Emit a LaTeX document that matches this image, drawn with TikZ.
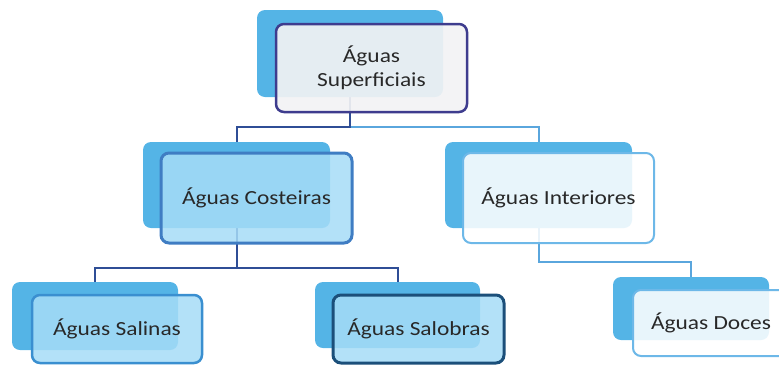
\documentclass[tikz,border=0pt]{standalone}
\usepackage{fontspec}
\setmainfont{Carlito}[FakeStretch=1.17]
\pgfdeclarelayer{background}
\pgfsetlayers{background,main}
\definecolor{backblue}{RGB}{84,180,230}
\definecolor{topfill}{RGB}{242,242,244}
\definecolor{topline}{RGB}{62,60,142}
\definecolor{lightfill}{RGB}{166,220,247}
\definecolor{midline}{RGB}{63,125,195}
\definecolor{salline}{RGB}{58,143,208}
\definecolor{navyline}{RGB}{27,79,122}
\definecolor{paleline}{RGB}{109,184,232}
\definecolor{darkconn}{RGB}{47,78,150}
\definecolor{lightconn}{RGB}{90,166,221}
\definecolor{txt}{RGB}{40,40,40}
\tikzset{
  backbox/.style={rectangle, rounded corners=8pt, fill=backblue, draw=none, inner sep=0pt, outer sep=0pt},
  frontbox/.style={rectangle, rounded corners=8pt, inner sep=0pt, outer sep=0pt, text=txt, font=\fontsize{20}{24}\selectfont, align=center},
  darkc/.style={draw=darkconn, line width=2pt},
  lightc/.style={draw=lightconn, line width=2pt}
}
\begin{document}
\begin{tikzpicture}[x=1pt,y=-1pt]
\useasboundingbox (0,0) rectangle (779,365);
% level 0
\node[backbox, minimum width=186pt, minimum height=87pt] (b1) at (350,53.5) {};
\node[frontbox, fill=topfill, fill opacity=0.92, text opacity=1, draw=topline, line width=2.5pt, minimum width=191pt, minimum height=88pt] (f1) at (371.5,68) {Águas\\Superficiais};
% level 1
\node[backbox, minimum width=187pt, minimum height=86pt] (b2) at (236.5,185) {};
\node[frontbox, fill=lightfill, fill opacity=0.85, text opacity=1, draw=midline, line width=3pt, minimum width=191pt, minimum height=90pt] (f2) at (256.5,198) {Águas Costeiras};
\node[backbox, minimum width=187pt, minimum height=86pt] (b3) at (538.5,185) {};
\node[frontbox, fill=white, fill opacity=0.87, text opacity=1, draw=paleline, line width=2pt, minimum width=191pt, minimum height=90pt] (f3) at (558.5,198) {Águas Interiores};
% level 2
\node[backbox, minimum width=166pt, minimum height=68pt] (b4) at (95,316) {};
\node[frontbox, fill=lightfill, fill opacity=0.85, text opacity=1, draw=salline, line width=2.5pt, minimum width=170pt, minimum height=68pt] (f4) at (117,329) {Águas Salinas};
\node[backbox, minimum width=165pt, minimum height=66pt] (b5) at (397.5,315) {};
\node[frontbox, fill=lightfill, fill opacity=0.85, text opacity=1, draw=navyline, line width=3pt, minimum width=171pt, minimum height=68pt] (f5) at (418.5,329) {Águas Salobras};
\node[backbox, minimum width=156pt, minimum height=63pt] (b6) at (691,308.5) {};
\node[frontbox, fill=white, fill opacity=0.87, text opacity=1, draw=paleline, line width=2pt, minimum width=156pt, minimum height=66pt] (f6) at (711,323) {Águas Doces};
% connectors
\coordinate (j1) at (350,127);
\coordinate (j2) at (236.5,268);
\coordinate (j3) at (538.5,262);
\begin{pgfonlayer}{background}
\draw[lightc] (j1) -| (b3.north);
\draw[darkc] (b1.south) -- (j1) -| (b2.north);
\draw[darkc] (b2.south) -- (j2) -| (b4.north);
\draw[darkc] (j2) -| (b5.north);
\draw[lightc] (b3.south) -- (j3) -| (b6.north);
\end{pgfonlayer}
\end{tikzpicture}
\end{document}
